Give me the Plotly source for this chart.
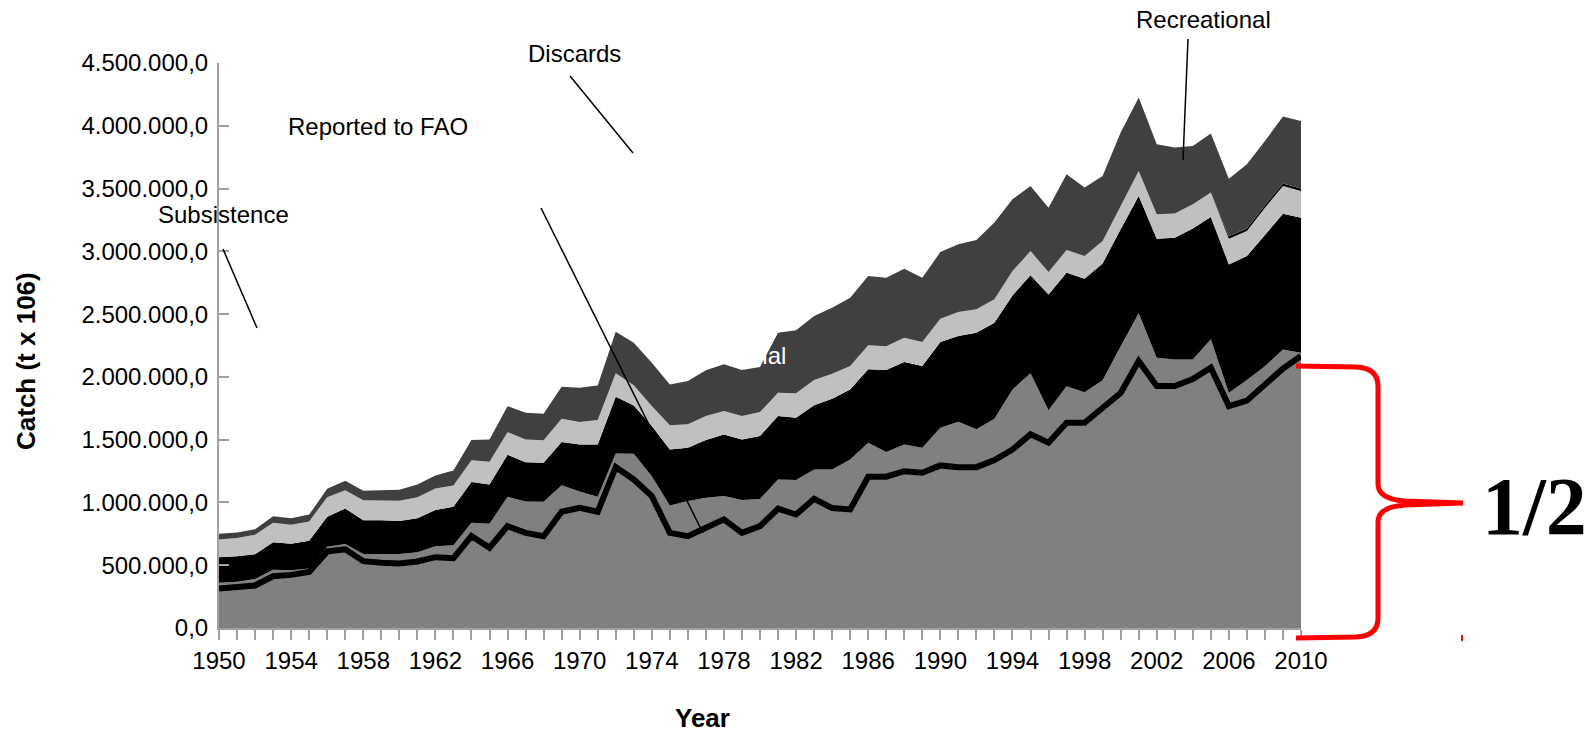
import plotly.graph_objects as go

# Annual catch by component, tonnes (stacked bottom to top)
years = list(range(1950, 2011))

reported = [
    315000, 323000, 339000, 412000, 423000, 446000, 610000, 627000, 532000, 519000, 514000, 530000, 564000, 556000, 732000, 639000,
    811000, 758000, 731000, 926000, 958000, 926000, 1281000, 1183000, 1050000, 758000, 731000, 799000, 865000, 758000, 811000, 950000,
    904000, 1029000, 955000, 944000, 1205000, 1205000, 1249000, 1237000, 1295000, 1281000, 1281000, 1337000, 1422000, 1542000,
    1476000, 1635000, 1635000, 1754000, 1872000, 2126000, 1927000, 1927000, 1982000, 2073000, 1768000, 1811000, 1940000, 2066000, 2166000,
]
artisanal = [
    45000, 45000, 52000, 51000, 37000, 28000, 37000, 43000, 58000, 71000, 76000, 73000, 87000, 103000, 106000, 191000,
    234000, 250000, 275000, 210000, 130000, 120000, 109000, 205000, 159000, 218000, 280000, 239000, 186000, 262000, 217000, 233000,
    274000, 234000, 308000, 399000, 271000, 196000, 213000, 199000, 300000, 362000, 301000, 330000, 478000, 486000,
    259000, 291000, 243000, 220000, 372000, 380000, 226000, 212000, 157000, 226000, 106000, 165000, 145000, 153000, 27000,
]
industrial = [
    204000, 204000, 197000, 220000, 211000, 221000, 239000, 282000, 268000, 268000, 263000, 271000, 288000, 307000, 324000, 313000,
    335000, 313000, 310000, 345000, 374000, 416000, 452000, 385000, 399000, 446000, 425000, 459000, 491000, 482000, 501000, 505000,
    497000, 512000, 563000, 557000, 584000, 653000, 656000, 650000, 682000, 682000, 770000, 765000, 749000, 781000,
    922000, 903000, 904000, 930000, 931000, 934000, 948000, 970000, 1042000, 974000, 1022000, 986000, 1045000, 1080000, 1075000,
]
discards = [
    141000, 144000, 154000, 155000, 151000, 154000, 156000, 146000, 160000, 158000, 161000, 168000, 173000, 169000, 175000, 182000,
    180000, 181000, 180000, 186000, 178000, 194000, 186000, 160000, 160000, 192000, 186000, 191000, 186000, 186000, 191000, 186000,
    194000, 200000, 199000, 186000, 191000, 191000, 194000, 191000, 187000, 191000, 186000, 186000, 194000, 193000,
    178000, 181000, 181000, 178000, 186000, 200000, 194000, 192000, 194000, 195000, 205000, 199000, 218000, 221000, 212000,
]
subsistence = [
    0, 0, 0, 0, 0, 0, 0, 0, 0, 0, 0, 0, 0, 0, 0, 0,
    0, 0, 0, 0, 0, 0, 0, 0, 0, 0, 0, 0, 0, 0, 0, 0,
    0, 0, 0, 0, 0, 0, 0, 0, 0, 0, 0, 0, 0, 0,
    0, 0, 0, 0, 0, 0, 0, 0, 0, 0, 20000, 20000, 20000, 20000, 20000,
]
recreational = [
    46000, 45000, 45000, 53000, 53000, 54000, 67000, 74000, 75000, 82000, 87000, 101000, 103000, 120000, 160000, 177000,
    207000, 212000, 210000, 255000, 274000, 276000, 332000, 339000, 345000, 326000, 345000, 364000, 372000, 367000, 359000, 478000,
    502000, 509000, 526000, 545000, 552000, 545000, 550000, 513000, 530000, 540000, 552000, 611000, 571000, 518000,
    513000, 604000, 545000, 518000, 585000, 585000, 558000, 525000, 464000, 470000, 458000, 512000, 511000, 533000, 538000,
]

y_tickvals = [0, 500000, 1000000, 1500000, 2000000, 2500000, 3000000, 3500000, 4000000, 4500000]
y_ticktext = ["0,0", "500.000,0", "1.000.000,0", "1.500.000,0", "2.000.000,0",
              "2.500.000,0", "3.000.000,0", "3.500.000,0", "4.000.000,0", "4.500.000,0"]

W, H = 1595, 733
X0, X1, YT, YB = 219, 1301, 63, 628
FONT = "Liberation Sans, Arial, sans-serif"


def px(x):
    return (x - X0) / (X1 - X0)


def py(y):
    return (YB - y) / (YB - YT)


def pt(x, y):
    return f"{px(x):.5f},{py(y):.5f}"


fig = go.Figure()

layers = [
    (reported, "#808080"),
    (artisanal, "#808080"),
    (industrial, "#000000"),
    (discards, "#c0c0c0"),
    (subsistence, "#000000"),
    (recreational, "#404040"),
]
for vals, color in layers:
    fig.add_trace(go.Scatter(
        x=years, y=vals, stackgroup="catch", mode="none",
        fillcolor=color, hoverinfo="skip", showlegend=False,
    ))

# Reported-to-FAO line over the base area
fig.add_trace(go.Scatter(
    x=years, y=reported, mode="lines",
    line=dict(color="#000000", width=6),
    hoverinfo="skip", showlegend=False,
))

axis_grey = "#a0a0a0"
fig.update_xaxes(
    range=[1950, 2010], tickmode="linear", tick0=1950, dtick=4,
    ticks="outside", ticklen=10, tickwidth=1.5, tickcolor=axis_grey,
    minor=dict(dtick=1, tick0=1950, ticks="outside", ticklen=10, tickwidth=1.5, tickcolor=axis_grey),
    showline=True, linecolor=axis_grey, linewidth=2,
    showgrid=False, zeroline=False,
    tickfont=dict(family=FONT, size=24, color="#000000"),
)
fig.update_yaxes(
    range=[0, 4500000], tickmode="array", tickvals=y_tickvals, ticktext=y_ticktext,
    ticks="inside", ticklen=10, tickwidth=1.5, tickcolor=axis_grey,
    showline=True, linecolor=axis_grey, linewidth=2,
    showgrid=False, zeroline=False, ticklabelstandoff=4,
    tickfont=dict(family=FONT, size=24, color="#000000"),
)

annotations = [
    dict(text="Recreational", x=px(1203), y=py(19), size=24, color="#000000"),
    dict(text="Discards", x=px(574), y=py(54), size=24, color="#000000"),
    dict(text="Reported to FAO", x=px(378), y=py(126), size=24, color="#000000"),
    dict(text="Subsistence", x=px(223), y=py(214), size=24, color="#000000"),
]
for a in annotations:
    fig.add_annotation(
        text=a["text"], x=a["x"], y=a["y"], xref="paper", yref="paper",
        xanchor="center", yanchor="middle", showarrow=False,
        font=dict(family=FONT, size=a["size"], color=a["color"]),
    )

# White label sitting partly over the dark band
fig.add_annotation(
    text="Artisanal", x=px(788), y=py(355), xref="paper", yref="paper",
    xanchor="right", yanchor="middle", showarrow=False,
    font=dict(family=FONT, size=24, color="#ffffff"),
)

# Axis titles
fig.add_annotation(
    text="<b>Catch (t x 106)</b>", x=px(26), y=py(361), xref="paper", yref="paper",
    xanchor="center", yanchor="middle", textangle=-90, showarrow=False,
    font=dict(family=FONT, size=26, color="#000000"),
)
fig.add_annotation(
    text="<b>Year</b>", x=px(702), y=py(718), xref="paper", yref="paper",
    xanchor="center", yanchor="middle", showarrow=False,
    font=dict(family=FONT, size=26, color="#000000"),
)

# Fraction next to the brace
fig.add_annotation(
    text="<b>1/2</b>", x=px(1534), y=py(507), xref="paper", yref="paper",
    xanchor="center", yanchor="middle", showarrow=False,
    font=dict(family="Liberation Serif, Times New Roman, serif", size=82, color="#000000"),
)

# Leader lines
leaders = [
    ((1188, 39), (1183, 160)),
    ((570, 76), (633, 153)),
    ((541, 208), (703, 533)),
    ((223, 249), (257, 328)),
]
for (xa, ya), (xb, yb) in leaders:
    fig.add_shape(
        type="line", xref="paper", yref="paper",
        x0=px(xa), y0=py(ya), x1=px(xb), y1=py(yb),
        line=dict(color="#000000", width=1.5), layer="above",
    )

# Red curly brace spanning the lower half
brace = (
    f"M{pt(1296, 366)} L{pt(1356, 367)} Q{pt(1378, 368)} {pt(1378, 386)} "
    f"L{pt(1378, 484)} Q{pt(1378, 499)} {pt(1405, 501)} L{pt(1463, 503)} "
    f"L{pt(1405, 505)} Q{pt(1378, 507)} {pt(1378, 522)} "
    f"L{pt(1378, 618)} Q{pt(1378, 636)} {pt(1356, 637)} L{pt(1296, 638)}"
)
fig.add_shape(
    type="path", xref="paper", yref="paper", path=brace,
    line=dict(color="#ff0000", width=5), layer="above",
)
fig.add_shape(
    type="line", xref="paper", yref="paper",
    x0=px(1462), y0=py(635), x1=px(1462), y1=py(641),
    line=dict(color="#ff0000", width=2), layer="above",
)

fig.update_layout(
    width=W, height=H,
    margin=dict(l=X0, r=W - X1, t=YT, b=H - YB),
    paper_bgcolor="#ffffff", plot_bgcolor="#ffffff",
    showlegend=False,
)

fig.write_html("out.html")
